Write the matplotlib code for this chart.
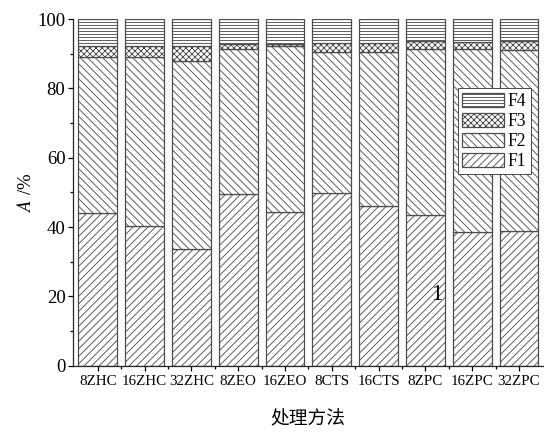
import matplotlib
matplotlib.use('Agg')
import matplotlib.pyplot as plt
import numpy as np
from matplotlib.ticker import MultipleLocator, FixedLocator

# fraction shares (%) for each treatment, stacked F1 -> F4
methods = ['8ZHC', '16ZHC', '32ZHC', '8ZEO', '16ZEO', '8CTS', '16CTS', '8ZPC', '16ZPC', '32ZPC']
f1 = [44.1, 40.3, 33.7, 49.6, 44.4, 49.9, 46.1, 43.5, 38.6, 38.9]
f2 = [45.0, 48.8, 54.1, 41.8, 47.9, 40.7, 44.3, 47.9, 52.7, 52.2]
f3 = [3.1, 3.1, 4.4, 1.3, 0.4, 2.6, 2.8, 2.4, 2.2, 2.7]
f4 = [7.8, 7.8, 7.8, 7.3, 7.3, 6.8, 6.8, 6.2, 6.5, 6.2]
fractions = ['F1', 'F2', 'F3', 'F4']

plt.rcParams['font.family'] = ['Liberation Serif', 'Noto Sans CJK SC']
plt.rcParams['mathtext.fontset'] = 'stix'
plt.rcParams['hatch.linewidth'] = 0.7

dpi = 90
fig = plt.figure(figsize=(544 / dpi, 435 / dpi), dpi=dpi)
ax = fig.add_axes([0.134, 0.159, 0.864, 0.797])

x = np.arange(len(methods))
edge = '0.3'
hatches = ['////', '\\\\\\\\', 'xxxxx', '-----']
bottom = np.zeros(len(methods))
for vals, hatch, name in zip([f1, f2, f3, f4], hatches, fractions):
    ax.bar(x, vals, 0.83, bottom=bottom, color='white', edgecolor=edge,
           hatch=hatch, linewidth=1.0, label=name)
    bottom += np.array(vals)

ax.set_xlim(-0.53, 9.51)
ax.set_ylim(0, 100)
ax.spines['top'].set_visible(False)
ax.spines['right'].set_visible(False)
for s in ['left', 'bottom']:
    ax.spines[s].set_linewidth(1.0)
    ax.spines[s].set_color('0.15')

ax.set_xticks(x)
ax.set_xticklabels(methods, fontsize=12)
ax.xaxis.set_minor_locator(FixedLocator(x[:-1] + 0.5))
ax.yaxis.set_major_locator(MultipleLocator(20))
ax.yaxis.set_minor_locator(MultipleLocator(10))
ax.tick_params(axis='y', which='major', labelsize=15, length=4, width=1.0, pad=2)
ax.tick_params(axis='x', which='major', length=4, width=1.0, pad=3)
ax.tick_params(which='minor', length=2.5, width=1.0)

ax.set_ylabel('$A$ /%', fontsize=15, labelpad=2)
ax.set_xlabel('处理方法', fontsize=15, labelpad=19)

handles, labels = ax.get_legend_handles_labels()
leg = ax.legend(handles[::-1], labels[::-1], loc='upper right',
                bbox_to_anchor=(0.974, 0.80), fontsize=14, frameon=True,
                fancybox=False, edgecolor='0.3', framealpha=1,
                handlelength=2.4, handleheight=0.9, handletextpad=0.2,
                labelspacing=0.15, borderpad=0.25, borderaxespad=0)
leg.get_frame().set_linewidth(0.8)

ax.text(7.25, 20.5, '1', fontsize=18, ha='center', va='center')

fig.savefig('out.png', dpi=dpi)
